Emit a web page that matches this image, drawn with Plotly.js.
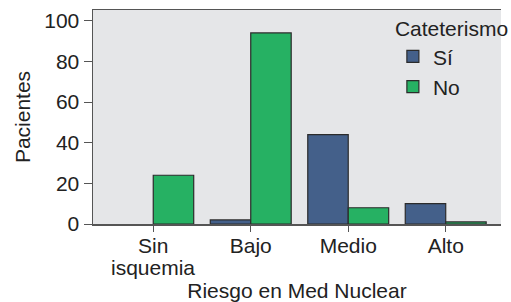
<!DOCTYPE html>
<html><head><meta charset="utf-8">
<script src="https://cdn.plot.ly/plotly-3.0.1.min.js"></script>
<style>html,body{margin:0;padding:0;background:#fff}#c{width:511px;height:302px}</style>
</head><body><div id="c"></div>
<script>
const categories = ["Sin isquemia", "Bajo", "Medio", "Alto"];
const tickLines1 = ["Sin", "Bajo", "Medio", "Alto"];
const tickLines2 = ["isquemia", "", "", ""];
const siValues = [null, 2, 44, 10];
const noValues = [24, 94, 8, 1];
const yTicks = [0, 20, 40, 60, 80, 100];
const seriesNames = ["Sí", "No"];
const legendTitle = "Cateterismo";
const xTitle = "Riesgo en Med Nuclear";
const yTitle = "Pacientes";

const font = {family: "Liberation Sans, Arial, sans-serif", size: 21, color: "#222"};
const traces = [
  {type: "bar", name: seriesNames[0], x: categories, y: siValues,
   marker: {color: "#44608a", line: {color: "#2b2b2b", width: 1.2}}},
  {type: "bar", name: seriesNames[1], x: categories, y: noValues,
   marker: {color: "#26b163", line: {color: "#2b2b2b", width: 1.2}}}
];
const annotations = categories.map((c, i) => ({
  x: c, xref: "x", y: 0, yref: "paper", yshift: -43, text: tickLines2[i],
  showarrow: false, font: font, xanchor: "center", yanchor: "middle"
})).filter(a => a.text);
const layout = {
  width: 511, height: 302,
  margin: {l: 92.5, r: 0, t: 9.5, b: 78},
  paper_bgcolor: "#ffffff", plot_bgcolor: "#e5e6e8",
  font: font,
  barmode: "group", bargap: 0.17, bargroupgap: 0,
  showlegend: true,
  legend: {x: 0.735, y: 1.005, xanchor: "left", yanchor: "top", bgcolor: "rgba(0,0,0,0)",
           title: {text: legendTitle, font: font}, font: font, itemwidth: 30},
  annotations: annotations,
  xaxis: {type: "category", range: [-0.618, 3.567], showline: true, mirror: true,
          tickvals: categories, ticktext: tickLines1, ticklabelstandoff: -4,
          linecolor: "#555", linewidth: 1.5, ticks: "outside", ticklen: 6, tickcolor: "#555",
          showgrid: false, zeroline: false, tickfont: font,
          title: {text: xTitle, font: font, standoff: 30}, automargin: false},
  yaxis: {range: [0, 105.3], tickvals: yTicks, showline: true, linecolor: "#555", linewidth: 1.5,
          ticks: "outside", ticklen: 8, tickcolor: "#555", showgrid: false, zeroline: false,
          tickfont: font, title: {text: yTitle, font: font, standoff: 8}, automargin: false}
};
Plotly.newPlot("c", traces, layout, {displayModeBar: false, staticPlot: true});
</script></body></html>
